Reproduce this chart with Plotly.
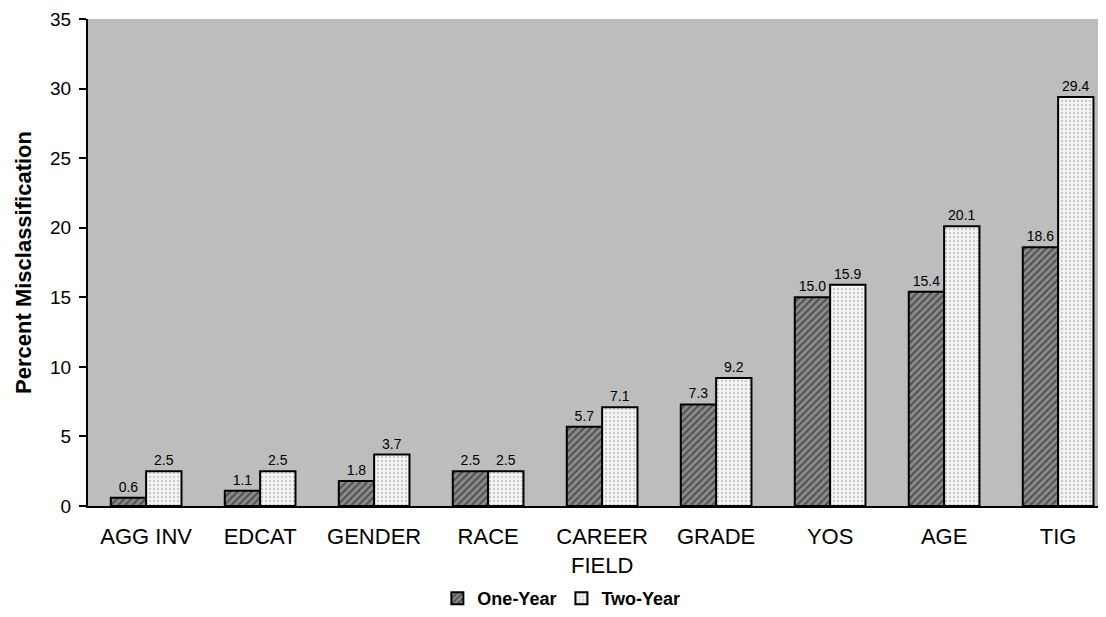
import plotly.graph_objects as go

categories = ["AGG INV", "EDCAT", "GENDER", "RACE", "CAREER<br>FIELD", "GRADE", "YOS", "AGE", "TIG"]
one_year = [0.6, 1.1, 1.8, 2.5, 5.7, 7.3, 15.0, 15.4, 18.6]
two_year = [2.5, 2.5, 3.7, 2.5, 7.1, 9.2, 15.9, 20.1, 29.4]
y_ticks = [0, 5, 10, 15, 20, 25, 30, 35]

FONT = "Liberation Sans, Arial, Helvetica, sans-serif"

fig = go.Figure()
fig.add_trace(go.Bar(
    name="One-Year", x=categories, y=one_year,
    text=[f"{v:.1f}" for v in one_year], textposition="outside",
    textfont=dict(size=14, color="black"), cliponaxis=False,
    marker=dict(color="#6e6e6e", line=dict(color="black", width=2),
                pattern=dict(shape="/", fgcolor="#111111", bgcolor="#8a8a8a", size=5, solidity=0.4)),
))
fig.add_trace(go.Bar(
    name="Two-Year", x=categories, y=two_year,
    text=[f"{v:.1f}" for v in two_year], textposition="outside",
    textfont=dict(size=14, color="black"), cliponaxis=False,
    marker=dict(color="#e8e8e8", line=dict(color="black", width=2),
                pattern=dict(shape=".", fgcolor="#9a9a9a", bgcolor="#f4f4f4", size=4, solidity=0.25)),
))

fig.update_layout(
    width=1098, height=609,
    margin=dict(l=80, r=0, t=11, b=110),
    paper_bgcolor="white", plot_bgcolor="#bdbdbd",
    barmode="group", bargap=0.38, bargroupgap=0,
    font=dict(family=FONT, color="black", size=20),
    legend=dict(orientation="h", x=0.465, xanchor="center", y=-0.19, yanchor="middle",
                font=dict(size=18, family=FONT, weight="bold"),
                itemwidth=30, traceorder="normal"),
    showlegend=True,
)
fig.update_xaxes(range=[-0.51, 8.42], showline=True, linecolor="black", linewidth=2,
                 ticks="", tickfont=dict(size=22), ticklabelstandoff=10,
                 showgrid=False, automargin=False)
fig.update_yaxes(range=[0, 35], tickvals=y_ticks, showline=True, linecolor="black", linewidth=2,
                 ticks="outside", ticklen=7, tickwidth=2, tickcolor="black",
                 tickfont=dict(size=19), ticklabeloverflow="allow", ticklabelstandoff=4,
                 showgrid=False, zeroline=False, automargin=False,
                 title=dict(text="<b>Percent Misclassification</b>", font=dict(size=22), standoff=12))

fig.write_html("out.html")
